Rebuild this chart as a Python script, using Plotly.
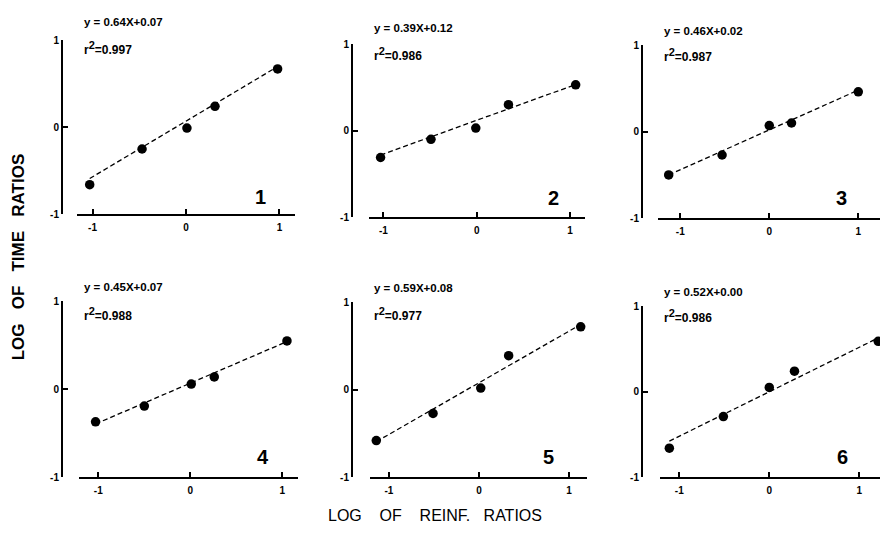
import numpy as np
import plotly.graph_objects as go

# ---------------- data ----------------
panel_labels = ["1", "2", "3", "4", "5", "6"]
slopes = [0.64, 0.39, 0.46, 0.45, 0.59, 0.52]
intercepts = [0.07, 0.12, 0.02, 0.07, 0.08, 0.00]
r_squared = [0.997, 0.986, 0.987, 0.988, 0.977, 0.986]

x1 = [-1.03, -0.47, 0.01, 0.31, 0.98]
y1 = [-0.66, -0.25, -0.01, 0.24, 0.67]
x2 = [-1.03, -0.49, -0.01, 0.34, 1.06]
y2 = [-0.31, -0.10, 0.03, 0.30, 0.53]
x3 = [-1.13, -0.53, 0.00, 0.25, 1.00]
y3 = [-0.50, -0.27, 0.07, 0.10, 0.46]
x4 = [-1.03, -0.50, 0.01, 0.26, 1.05]
y4 = [-0.37, -0.19, 0.06, 0.14, 0.55]
x5 = [-1.14, -0.51, 0.02, 0.33, 1.13]
y5 = [-0.58, -0.27, 0.02, 0.39, 0.72]
x6 = [-1.11, -0.51, 0.00, 0.28, 1.21]
y6 = [-0.66, -0.29, 0.05, 0.24, 0.59]

tick_vals = [-1, 0, 1]
tick_text = ["-1", "0", "1"]
S4 = "\u00a0" * 4
S3 = "\u00a0" * 3
y_title = "LOG" + S3 + "OF" + S3 + "TIME" + S3 + "RATIOS"
x_title = "LOG" + S4 + "OF" + S4 + "REINF." + S3 + "RATIOS"

xs = [x1, x2, x3, x4, x5, x6]
ys = [y1, y2, y3, y4, y5, y6]

# ---------------- layout geometry (pixels) ----------------
W, H = 880, 541
def fx(p):
    return p / W
def fy(p):
    return 1 - p / H

yaxis_x = [62, 352, 642, 62, 352, 642]
xspan = [(77, 295), (369, 585), (658, 880), (79, 298), (370, 587), (660, 880)]
xrng = [(-1.166, 1.166), (-1.154, 1.16), (-1.25, 1.244),
        (-1.21, 1.17), (-1.21, 1.2), (-1.214, 1.23)]
yspan = [(35, 213), (39, 216), (40, 217), (302, 482), (303, 482), (307, 482)]
eq_y = [16, 23, 26, 287, 288, 292]
r2_y = [43, 49, 50, 315, 315, 317]
num_pos = [(260, 195), (553, 196), (841, 196), (263, 461), (548, 461), (842, 461)]

FONT = "Liberation Sans"
fig = go.Figure()
annotations = []

for i in range(6):
    n = "" if i == 0 else str(i + 1)
    xa, ya = "x" + n, "y" + n
    xd = np.array(xs[i])
    lx = np.array([xd.min(), xd.max()])
    ly = slopes[i] * lx + intercepts[i]
    fig.add_trace(go.Scatter(x=lx, y=ly, mode="lines", xaxis=xa, yaxis=ya,
                             line=dict(color="black", width=1.3, dash="5px,3px"),
                             showlegend=False, hoverinfo="skip"))
    fig.add_trace(go.Scatter(x=xs[i], y=ys[i], mode="markers", xaxis=xa, yaxis=ya,
                             marker=dict(color="black", size=9.5),
                             cliponaxis=False, showlegend=False))

    fig.layout["xaxis" + n] = dict(
        domain=[fx(xspan[i][0]), fx(xspan[i][1])], range=list(xrng[i]),
        anchor=ya, showline=True, linecolor="black", linewidth=2,
        ticks="inside", ticklen=5, tickwidth=1.5, tickcolor="black",
        tickvals=tick_vals, ticktext=tick_text, showgrid=False, zeroline=False,
        tickfont=dict(family=FONT, size=10, color="black", weight="bold"),
        ticklabelstandoff=3, fixedrange=True)
    fig.layout["yaxis" + n] = dict(
        domain=[fy(yspan[i][1]), fy(yspan[i][0])], range=[-1, 1],
        anchor="free", position=fx(yaxis_x[i]),
        showline=True, linecolor="black", linewidth=2,
        ticks="inside", ticklen=5, tickwidth=1.5, tickcolor="black",
        tickvals=tick_vals, ticktext=tick_text, showgrid=False, zeroline=False,
        tickfont=dict(family=FONT, size=10, color="black", weight="bold"),
        fixedrange=True)

    eq = "y = %.2fX+%.2f" % (slopes[i], intercepts[i])
    annotations.append(dict(x=fx(yaxis_x[i] + 20), y=fy(eq_y[i]), xref="paper", yref="paper",
                            text=eq, showarrow=False, xanchor="left", yanchor="middle",
                            font=dict(family=FONT, size=11.5, color="black", weight="bold")))
    annotations.append(dict(x=fx(yaxis_x[i] + 20), y=fy(r2_y[i]), xref="paper", yref="paper",
                            text="r<sup><span style='font-size:11px'>2</span></sup>=%.3f" % r_squared[i],
                            showarrow=False, xanchor="left", yanchor="middle",
                            font=dict(family=FONT, size=12, color="black", weight="bold")))
    annotations.append(dict(x=fx(num_pos[i][0]), y=fy(num_pos[i][1]), xref="paper", yref="paper",
                            text=panel_labels[i], showarrow=False, xanchor="center", yanchor="middle",
                            font=dict(family=FONT, size=20, color="black", weight="bold")))

annotations.append(dict(x=fx(18), y=fy(257), xref="paper", yref="paper", text=y_title,
                        showarrow=False, textangle=-90, xanchor="center", yanchor="middle",
                        font=dict(family=FONT, size=17, color="black", weight="bold")))
annotations.append(dict(x=fx(435), y=fy(521), xref="paper", yref="paper", text=x_title,
                        showarrow=False, xanchor="center", yanchor="middle",
                        font=dict(family=FONT, size=16, color="black")))

fig.update_layout(width=W, height=H, margin=dict(l=0, r=0, t=0, b=0),
                  paper_bgcolor="white", plot_bgcolor="white",
                  annotations=annotations, showlegend=False)

fig.write_html("out.html", config={"displayModeBar": False})
